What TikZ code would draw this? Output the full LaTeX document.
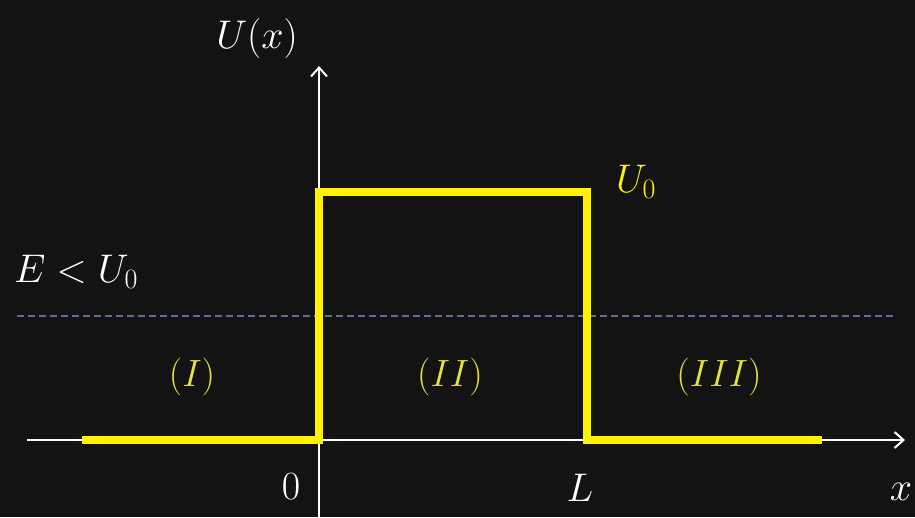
\RequirePackage{fix-cm}
\documentclass[tikz,border=0pt]{standalone}
\usetikzlibrary{arrows.meta}
\definecolor{board}{HTML}{131313}
\definecolor{chalkyellow}{HTML}{FFF200}
\definecolor{labelyellow}{HTML}{E8E23A}
\definecolor{dashblue}{HTML}{5C7090}
\begin{document}
\begin{tikzpicture}[x=1pt,y=-1pt,
  axis/.style={draw=white,line width=2pt},
  pot/.style={draw=chalkyellow,line width=8pt,line join=miter},
  lab/.style={text=white,font=\fontsize{40}{48}\selectfont,inner sep=0pt},
  reg/.style={text=labelyellow,font=\fontsize{38}{46}\selectfont,inner sep=0pt},
  level/.style={draw=dashblue,line width=1.5pt,dash pattern=on 7pt off 4pt}]
\fill[board] (0,0) rectangle (915,517);
\useasboundingbox (0,0) rectangle (915,517);
% axes
\coordinate (xs) at (27,440);
\coordinate (xe) at (905,440);
\coordinate (ys) at (319,517);
\coordinate (ye) at (319,66);
\draw[axis,-{Straight Barb[length=9pt,width=16pt,line width=2pt]}] (xs) -- (xe);
\draw[axis,-{Straight Barb[length=9pt,width=16pt,line width=2pt]}] (ys) -- (ye);
% energy level
\coordinate (ds) at (17,316);
\coordinate (de) at (897,316);
\draw[level] (ds) -- (de);
% potential
\coordinate (p1) at (82,440);
\coordinate (p2) at (319,440);
\coordinate (p3) at (319,192);
\coordinate (p4) at (587,192);
\coordinate (p5) at (587,440);
\coordinate (p6) at (822,440);
\draw[pot] (p1) -- (p2) -- (p3) -- (p4) -- (p5) -- (p6);
% labels
\node[lab] (ux) at (257,38) {$U(x)$};
\node[lab,text=chalkyellow] (u0) at (636,182) {$U_0$};
\node[lab] (e) at (76,272) {$E<U_0$};
\node[reg] (r1) at (192,377) {$(I)$};
\node[reg] (r2) at (450,377) {$(II)$};
\node[reg] (r3) at (719,377) {$(III)$};
\node[lab] (zero) at (291,487) {$0$};
\node[lab] (l) at (580,488) {$L$};
\node[lab] (xl) at (901,492) {$x$};
\end{tikzpicture}
\end{document}
